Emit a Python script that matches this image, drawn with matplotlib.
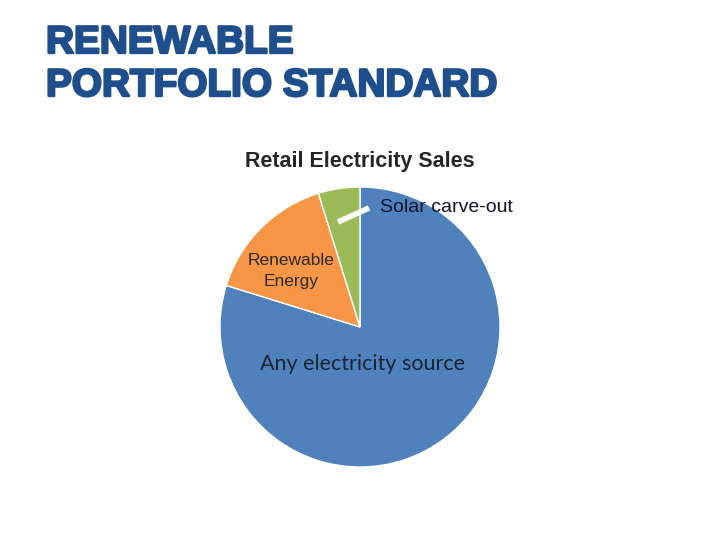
import matplotlib
matplotlib.use("Agg")
import matplotlib.pyplot as plt
import matplotlib.patheffects as pe

categories = ["Any electricity source", "Renewable Energy", "Solar carve-out"]
shares = [79.8, 15.4, 4.8]
colors = ["#4F81BD", "#F79646", "#9BBB59"]

fig = plt.figure(figsize=(7.2, 5.4), dpi=100)
fig.patch.set_facecolor("white")

heavy = [pe.withStroke(linewidth=1.7, foreground="#1F4E8C")]
fig.text(46/720, 1 - 53/540, "RENEWABLE", fontsize=27.9, fontweight="bold",
         family="Liberation Sans", color="#1F4E8C", ha="left", va="baseline",
         path_effects=heavy)
fig.text(46/720, 1 - 96/540, "PORTFOLIO STANDARD", fontsize=27.9, fontweight="bold",
         family="Liberation Sans", color="#1F4E8C", ha="left", va="baseline",
         path_effects=heavy)

ax = fig.add_axes([220/720, 73/540, 280/720, 280/540])
wedges, _ = ax.pie(shares, colors=colors, startangle=90, counterclock=False,
                   radius=1.0, wedgeprops=dict(edgecolor="white", linewidth=1))
ax.set_xlim(-1, 1)
ax.set_ylim(-1, 1)
ax.set_aspect("equal")
ax.axis("off")

fig.text(360/720, 1 - 162/540, "Retail Electricity Sales", fontsize=15.5,
         fontweight="bold", family="Liberation Sans", color="#262626",
         ha="center", va="center")

ax.text((362-360)/140, (327-364)/140, categories[0], fontsize=15.5, family="Lato",
        color="#1a2433", ha="center", va="center")
ax.text((291-360)/140, (327-271)/140, "Renewable\nEnergy", fontsize=12.5,
        family="Liberation Sans", color="#2a2a2a", ha="center", va="center",
        linespacing=1.5)
ax.plot([(338-360)/140, (369-360)/140], [(327-222)/140, (327-208)/140],
        color="white", linewidth=4, solid_capstyle="butt", clip_on=False)
ax.text((380-360)/140, (327-208)/140, categories[2], fontsize=14,
        family="Liberation Sans", color="#10142a", ha="left", va="center", clip_on=False)

fig.savefig("out.png", dpi=100)
